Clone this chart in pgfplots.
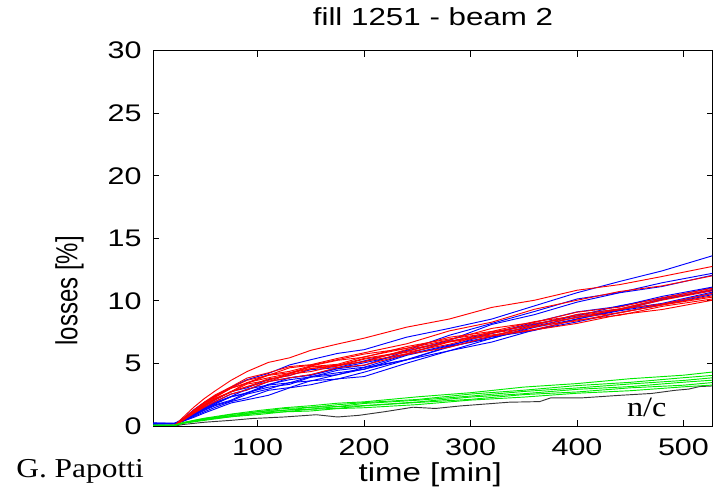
\documentclass[border=0pt]{standalone}
\usepackage{fontspec}
\setmainfont[FakeStretch=1.27]{Liberation Sans}
\newfontfamily\ylabfont{Liberation Sans}
\newfontfamily\serifst[FakeStretch=1.15]{Liberation Serif}
\usepackage{graphicx}
\usepackage{pgfplots}
\usepackage{pgfplotstable}
\pgfplotsset{compat=1.18}
\definecolor{myred}{RGB}{255,0,0}
\definecolor{myblue}{RGB}{0,0,255}
\definecolor{mygreen}{RGB}{0,235,0}
\definecolor{mygray}{RGB}{55,55,55}
\newcommand\tickfont{\fontsize{18}{21}\selectfont}

\pgfplotstableread{
t   R1    R2    Ra    Rb    Rc    Rd    Re    Rf    Rg    Rh
2   0     -0.05 0.0   -0.05 0.02  -0.03 0.0   -0.05 0.02  -0.02
22  0.05  0.0   0.03  0.0   0.05  0.0   0.02  -0.02 0.05  0.0
30  0.7   0.57  0.53  0.5   0.54  0.48  0.51  0.45  0.56  0.48
40  1.5   1.27  1.17  1.1   1.2   1.07  1.14  1.0   1.24  1.07
50  2.2   1.91  1.76  1.65  1.81  1.6   1.7   1.5   1.86  1.6
60  2.8   2.48  2.28  2.15  2.35  2.08  2.21  1.95  2.41  2.15
75  3.65  3.13  3.03  2.71  3.01  2.75  2.74  2.55  3.05  2.72
90  4.35  3.83  3.40  3.35  3.45  3.15  3.47  2.90  3.65  3.14
110 5.08  4.25  4.05  3.65  4.10  3.53  3.85  3.55  4.05  3.77
130 5.45  4.75  4.25  4.20  4.37  4.15  4.20  3.85  4.65  4.02
150 6.05  4.90  4.75  4.60  4.80  4.35  4.72  4.10  4.85  4.58
175 6.55  5.40  4.93  4.85  5.25  4.83  4.85  4.67  5.30  4.78
200 7.02  5.85  5.53  5.13  5.50  5.15  5.40  4.87  5.75  5.34
240 7.90  6.57  6.21  6.11  6.35  5.77  5.96  5.72  6.21  5.89
280 8.55  7.60  6.87  6.72  6.96  6.71  6.77  6.29  7.09  6.53
320 9.48  8.30  7.80  7.53  7.44  7.21  7.28  7.18  7.56  7.42
360 10.05 9.33  8.29  8.04  8.20  7.98  7.72  7.68  8.34  7.91
400 10.85 10.05 9.10  8.92  8.65  8.40  8.48  8.20  8.80  8.70
440 11.30 10.75 9.50  9.36  9.35  9.07  8.85  8.90  9.28  9.04
480 11.95 11.20 10.26 10.16 9.75  9.67  9.56  9.31  10.06 9.69
527 12.75 12.0  11.0  10.9  10.6  10.3  10.15 10.05 10.8  10.4
}\redtab

\pgfplotstableread{
t   B1    B2    B3    Ba    Bb    Bc    Bd    Be    Bf    Bg
2   0.2   0.22  0.18  0.15  0.2   0.25  0.18  0.2   0.15  0.22
22  0.2   0.2   0.18  0.18  0.22  0.2   0.2   0.17  0.2   0.22
30  0.6   0.48  0.44  0.45  0.42  0.4   0.44  0.38  0.41  0.45
40  1.3   1.07  0.97  0.9   0.83  0.76  0.93  0.69  0.86  1.0
50  1.9   1.6   1.45  1.35  1.25  1.14  1.4   1.04  1.3   1.5
60  2.4   2.08  1.88  1.75  1.62  1.49  1.82  1.36  1.69  1.95
75  3.10  2.75  2.36  2.34  2.00  1.95  2.33  1.84  2.06  2.55
90  3.70  3.05  2.95  2.60  2.55  2.25  2.65  2.10  2.67  2.87
110 4.20  3.70  3.27  3.27  2.95  2.85  3.33  2.45  3.10  3.55
130 4.88  4.05  3.85  3.45  3.47  3.07  3.70  3.05  3.33  3.85
150 5.30  4.50  4.05  3.95  3.60  3.62  3.92  3.30  3.90  4.10
175 5.80  4.67  4.57  4.25  4.10  3.75  4.45  3.77  4.10  4.63
200 6.10  5.20  4.85  4.53  4.55  4.30  4.70  3.95  4.67  5.05
240 7.10  6.05  5.98  5.65  5.30  5.29  5.71  5.02  5.29  5.76
280 7.80  7.25  6.85  6.40  6.37  6.01  6.47  6.01  6.31  6.77
320 8.55  8.20  8.12  7.40  7.00  7.01  7.16  6.71  7.12  7.40
360 9.60  9.15  8.90  8.15  7.98  7.88  8.09  7.68  7.64  8.29
400 10.65 10.15 9.90  8.80  8.70  8.55  8.90  8.32  8.55  9.12
440 11.55 10.67 10.65 9.61  9.24  9.31  9.35  9.06  9.21  9.56
480 12.40 11.45 11.15 10.21 10.09 9.80  10.14 9.68  9.73  10.36
527 13.6  12.2  12.05 11.05 10.9  10.7  10.85 10.5  10.6  11.1
}\bluetab

\pgfplotstableread{
t   G1    G2    G3    G4    G5    G6
2   0.05  0.05  0.05  0.05  0.05  0.05
22  0.05  0.05  0.05  0.05  0.05  0.05
30  0.28  0.26  0.25  0.24  0.23  0.21
50  0.62  0.55  0.60  0.50  0.52  0.45
75  0.95  0.92  0.80  0.84  0.74  0.74
100 1.23  1.13  1.15  1.02  1.02  0.91
125 1.46  1.40  1.25  1.27  1.14  1.13
150 1.62  1.49  1.50  1.35  1.34  1.20
175 1.82  1.70  1.55  1.55  1.41  1.39
200 1.93  1.87  1.80  1.63  1.61  1.46
250 2.33  2.12  2.06  1.92  1.88  1.71
300 2.66  2.55  2.39  2.31  2.13  2.07
350 3.11  2.86  2.76  2.58  2.51  2.31
400 3.39  3.23  3.04  2.93  2.72  2.62
450 3.78  3.49  3.36  3.15  3.05  2.82
500 4.06  3.86  3.64  3.50  3.26  3.13
527 4.31  4.04  3.85  3.66  3.47  3.27
}\greentab

\pgfplotstableread{
t   K
2   0.0
22  0.0
30  0.12
50  0.3
75  0.45
95  0.6
125 0.72
155 0.9
175 0.72
195 0.85
220 1.15
246 1.5
267 1.4
290 1.6
336 1.9
365 1.95
375 2.24
405 2.25
440 2.45
470 2.6
492 2.85
505 2.95
515 3.15
527 3.2
}\blacktab

\begin{document}
\begin{tikzpicture}[x=1pt,y=1pt]
\path[use as bounding box] (0,0) rectangle (539.25,371.25);
\begin{axis}[
  at={(115pt,51.75pt)}, anchor=south west,
  scale only axis, width=419.55pt, height=281.5pt,
  xmin=2, xmax=527.5, ymin=0, ymax=30,
  xtick={100,200,300,400,500},
  ytick={0,5,10,15,20,25,30},
  /pgf/number format/assume math mode=true,
  axis line style={line width=0.7pt, black},
  tick align=inside, major tick length=4.5pt,
  tick style={line width=0.6pt, black},
  ticklabel style={font=\tickfont},
  xticklabel style={inner sep=0pt, yshift=-9pt},
  yticklabel style={inner sep=0pt, xshift=-8.7pt},
  title={fill 1251 - beam 2},
  title style={at={(axis description cs:0.5,1)}, anchor=base, yshift=12.5pt, inner sep=0pt, font=\fontsize{18.5}{21}\selectfont},
  xlabel={time [min]},
  xlabel style={at={(axis description cs:0.495,0)}, anchor=base, yshift=-41.6pt, inner sep=0pt, font=\fontsize{19.5}{22}\selectfont},
  ylabel={\scalebox{1}[1.27]{\ylabfont\fontsize{18}{20}\selectfont losses [\%]}},
  ylabel style={at={(axis description cs:-0.15,0.36)}, anchor=center, inner sep=0pt},
  clip mode=individual,
]
\pgfplotsinvokeforeach{B1,B2,B3,Ba,Bb,Bc,Bd,Be,Bf,Bg}{
  \addplot[myblue, line width=0.7pt] table[x=t,y=#1]{\bluetab};
}
\pgfplotsinvokeforeach{R1,R2,Ra,Rb,Rc,Rd,Re,Rf,Rg,Rh}{
  \addplot[myred, line width=0.7pt] table[x=t,y=#1]{\redtab};
}
\addplot[mygray, line width=0.7pt] table[x=t,y=K]{\blacktab};
\pgfplotsinvokeforeach{G1,G2,G3,G4,G5,G6}{
  \addplot[mygreen, line width=0.7pt] table[x=t,y=#1]{\greentab};
}
\node[anchor=base, inner sep=0pt, font=\serifst\fontsize{21}{24}\selectfont] at (axis cs:465.5,0.72) {n/c};
\node[anchor=base west, inner sep=0pt, font=\serifst\fontsize{20.5}{23}\selectfont] at (axis description cs:-0.2454,-0.138) {G. Papotti};
\end{axis}
\end{tikzpicture}
\end{document}
